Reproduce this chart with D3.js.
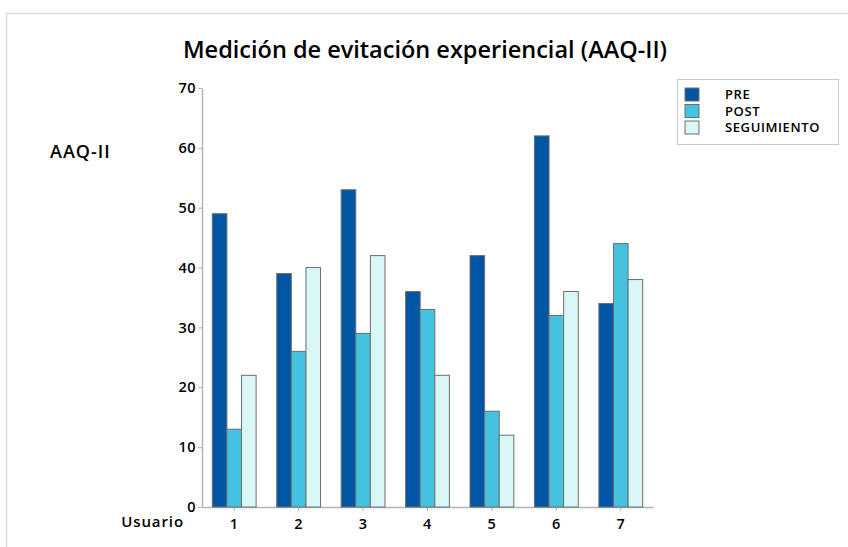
<!DOCTYPE html>
<html>
<head>
<meta charset="utf-8">
<script src="https://cdn.jsdelivr.net/npm/d3@7"></script>
<style>
  body { margin: 0; background: #fff; }
  svg { display: block; font-family: "Open Sans", "Noto Sans", sans-serif; }
</style>
</head>
<body>
<svg id="drawing_region"></svg>
<script>
// data
const usuarios = ["1", "2", "3", "4", "5", "6", "7"];
const series   = ["PRE", "POST", "SEGUIMIENTO"];
const pre         = [49, 39, 53, 36, 42, 62, 34];
const post        = [13, 26, 29, 33, 16, 32, 44];
const seguimiento = [22, 40, 42, 22, 12, 36, 38];
const yTicks = [0, 10, 20, 30, 40, 50, 60, 70];

const colors = ["#0055a5", "#45c2e0", "#d9f7f7"];

const width = 848;
const height = 547;
const margin = {top: 88, right: 195, bottom: 40, left: 202};

const svg = d3.select('#drawing_region')
    .attr('width', width)
    .attr('height', height);

// outer frame (runs off the right and bottom edges)
svg.append('rect')
    .attr('x', 6.5).attr('y', 13.5)
    .attr('width', 860).attr('height', 560)
    .attr('fill', 'none')
    .attr('stroke', '#dcdcdc')
    .attr('stroke-width', 1.5);

const chart = svg.append('g')
    .attr('transform', `translate(${margin.left}, ${margin.top})`);

const inner_width = width - margin.left - margin.right;
const inner_height = height - margin.top - margin.bottom;

const table = usuarios.map((u, i) => ({
  label: u,
  values: [pre[i], post[i], seguimiento[i]]
}));

const xscale = d3.scaleBand()
    .domain(usuarios)
    .range([0, inner_width])
    .paddingInner(0.32)
    .paddingOuter(0.16);

const subscale = d3.scaleBand()
    .domain(series)
    .range([0, xscale.bandwidth()]);

const yscale = d3.scaleLinear()
    .domain([0, 70])
    .range([inner_height, 0]);

const xaxis = d3.axisBottom(xscale).tickSize(4).tickSizeOuter(0);
const yaxis = d3.axisLeft(yscale).tickValues(yTicks).tickSize(4).tickSizeOuter(0);

const xg = chart.append('g')
    .attr('transform', `translate(0, ${inner_height})`)
    .call(xaxis);
const yg = chart.append('g').call(yaxis);

[xg, yg].forEach(g => {
  g.select('.domain').attr('stroke', '#b4b4b4').attr('stroke-width', 1.5);
  g.selectAll('.tick line').attr('stroke', '#b4b4b4');
  g.selectAll('.tick text')
      .attr('fill', '#000')
      .attr('font-size', '14.5px')
      .attr('font-weight', 600)
      .attr('letter-spacing', '0.5px')
      .attr('font-family', '"Open Sans", sans-serif');
});
xg.selectAll('.tick text').attr('dy', '1.05em');
yg.selectAll('.tick text').attr('x', -6);

// bars
chart.selectAll('g.group').data(table).enter()
  .append('g')
    .attr('class', 'group')
    .attr('transform', d => `translate(${xscale(d.label)}, 0)`)
  .selectAll('rect')
  .data(d => d.values.map((v, j) => ({s: series[j], v: v, c: colors[j]})))
  .enter()
  .append('rect')
    .attr('x', d => subscale(d.s))
    .attr('y', d => yscale(d.v))
    .attr('width', subscale.bandwidth())
    .attr('height', d => inner_height - yscale(d.v))
    .attr('fill', d => d.c)
    .attr('stroke', '#6e6e6e')
    .attr('stroke-width', 1);

// title
svg.append('text')
    .attr('x', 425)
    .attr('y', 58)
    .attr('text-anchor', 'middle')
    .attr('font-size', '23.5px')
    .attr('font-weight', 600)
    .text('Medición de evitación experiencial (AAQ-II)');

// axis titles
svg.append('text')
    .attr('x', 50)
    .attr('y', 158)
    .attr('font-size', '18px')
    .attr('font-weight', 600)
    .attr('letter-spacing', '1px')
    .text('AAQ-II');

svg.append('text')
    .attr('x', 184)
    .attr('y', 527)
    .attr('text-anchor', 'end')
    .attr('font-size', '15px')
    .attr('font-weight', 600)
    .attr('letter-spacing', '0.9px')
    .text('Usuario');

// legend
const legend = svg.append('g').attr('transform', 'translate(677, 79)');
legend.append('rect')
    .attr('x', 0.5).attr('y', 0.5)
    .attr('width', 161).attr('height', 65)
    .attr('fill', '#fff')
    .attr('stroke', '#c8c8c8');
const items = legend.selectAll('g.item').data(series).enter()
  .append('g')
    .attr('class', 'item')
    .attr('transform', (d, i) => `translate(8, ${9 + i * 16.5})`);
items.append('rect')
    .attr('width', 14).attr('height', 13)
    .attr('fill', (d, i) => colors[i])
    .attr('stroke', '#6e6e6e');
items.append('text')
    .attr('x', 40)
    .attr('y', 11)
    .attr('font-size', '13px')
    .attr('font-weight', 600)
    .attr('letter-spacing', '0.6px')
    .text(d => d);
</script>
</body>
</html>
